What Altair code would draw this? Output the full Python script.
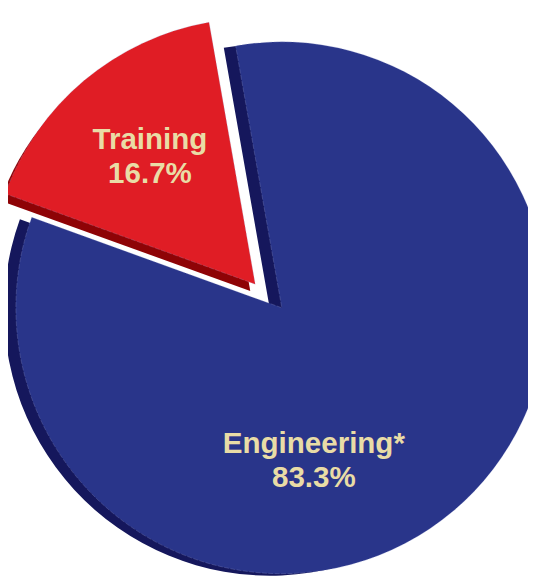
import altair as alt
import pandas as pd
import math

categories = ["Engineering*", "Training"]
values = [83.3, 16.7]
face_colors = ["#29358a", "#e01d25"]
rim_colors = ["#15175c", "#8e0306"]

df = pd.DataFrame({"category": categories, "value": values, "order": [0, 1],
                   "face": face_colors, "rim": rim_colors})

start = -10 * math.pi / 180
theta_scale = alt.Scale(domain=[0, 100], range=[start, start + 2 * math.pi])

base = alt.Chart(df).transform_window(
    end="sum(value)", sort=[alt.SortField("order")]
).transform_calculate(
    start="datum.end - datum.value",
    mid="datum.end - datum.value / 2",
    label="[datum.category, format(datum.value, '.1f') + '%']",
)

CX, CY, R = 278, 300, 270
ex, ey = -27, -24  # explosion of Training


def arc(cat, color_field, dx, dy, **kw):
    return base.transform_filter(alt.datum.category == cat).mark_arc(
        radius=R, xOffset=dx, yOffset=dy, **kw
    ).encode(
        theta=alt.Theta("start:Q", scale=theta_scale),
        theta2="end:Q",
        color=alt.Color(f"{color_field}:N", scale=None),
        x=alt.value(CX), y=alt.value(CY),
    )


edge = dict(stroke="#9aa0d0", strokeWidth=0.6, strokeOpacity=0.45, strokeDash=[5, 1.5])
blue_rim = arc("Engineering*", "rim", -12, 2)
blue_face = arc("Engineering*", "face", 0, 0, **edge)
red_rim = arc("Training", "rim", ex - 5, ey + 7)
red_face = arc("Training", "face", ex, ey, **edge)

text_common = dict(font="Liberation Sans", fontWeight="bold", fontSize=30,
                   color="#e9dca6", align="center", baseline="middle", lineHeight=34)

eng_text = base.transform_filter(alt.datum.category == "Engineering*").mark_text(
    dx=-64, dy=24, **text_common
).encode(
    theta=alt.Theta("mid:Q", scale=theta_scale),
    radius=alt.value(150),
    text="label:N",
    x=alt.value(CX), y=alt.value(CY),
)
train_text = base.transform_filter(alt.datum.category == "Training").mark_text(
    dx=ex + 9, dy=ey - 8, **text_common
).encode(
    theta=alt.Theta("mid:Q", scale=theta_scale),
    radius=alt.value(180),
    text="label:N",
    x=alt.value(CX), y=alt.value(CY),
)

chart = alt.layer(blue_rim, blue_face, red_rim, red_face, eng_text, train_text).properties(
    width=528, height=569, padding=0, autosize=alt.AutoSizeParams(type="none")
).configure_view(stroke=None)

chart.save("out.html", embed_options={"renderer": "svg", "actions": False})
